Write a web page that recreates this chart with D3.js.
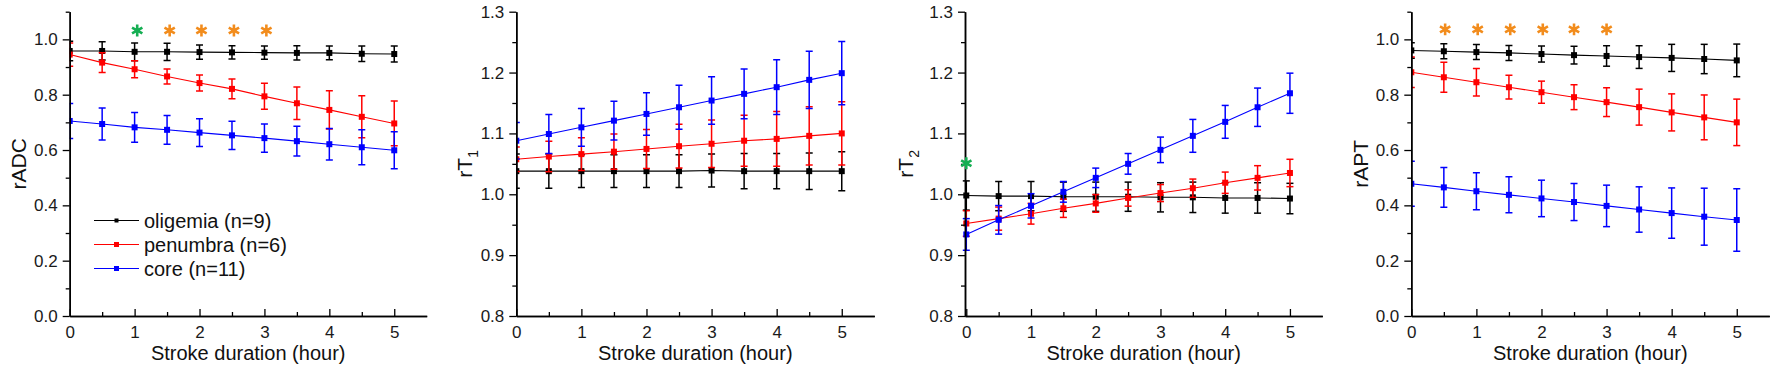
<!DOCTYPE html>
<html>
<head>
<meta charset="utf-8">
<script src="https://cdn.jsdelivr.net/npm/d3@7"></script>
<style>
  html, body { margin: 0; padding: 0; background: #fff; }
  svg { display: block; font-family: Arial, "Liberation Sans", sans-serif; }
</style>
</head>
<body>
<svg id="chart" width="1773" height="370"></svg>
<script>
// ---------- data ----------
const hours = [0, 0.5, 1, 1.5, 2, 2.5, 3, 3.5, 4, 4.5, 5];
const xTickValues = [0, 1, 2, 3, 4, 5];
const xMinorTicks = [0.5, 1.5, 2.5, 3.5, 4.5];
const seriesNames = ["oligemia (n=9)", "penumbra (n=6)", "core (n=11)"];
const seriesColors = ["#000000", "#ff0000", "#0000ff"];

// rADC
const adcOlig = [0.958, 0.958, 0.955, 0.955, 0.954, 0.953, 0.952, 0.951, 0.951, 0.948, 0.947];
const adcOligErr = [0.035, 0.033, 0.032, 0.031, 0.026, 0.024, 0.024, 0.026, 0.025, 0.028, 0.029];
const adcPen = [0.945, 0.916, 0.892, 0.866, 0.842, 0.821, 0.794, 0.769, 0.745, 0.720, 0.696];
const adcPenErr = [0.042, 0.036, 0.031, 0.027, 0.029, 0.036, 0.047, 0.059, 0.069, 0.076, 0.081];
const adcCore = [0.705, 0.694, 0.682, 0.673, 0.663, 0.653, 0.643, 0.632, 0.621, 0.610, 0.599];
const adcCoreErr = [0.063, 0.058, 0.054, 0.052, 0.050, 0.051, 0.051, 0.054, 0.057, 0.063, 0.067];

// rT1
const t1Olig = [1.038, 1.038, 1.038, 1.038, 1.038, 1.038, 1.039, 1.038, 1.038, 1.038, 1.038];
const t1OligErr = [0.028, 0.028, 0.027, 0.027, 0.027, 0.027, 0.027, 0.029, 0.029, 0.030, 0.032];
const t1Pen = [1.0575, 1.062, 1.066, 1.070, 1.0745, 1.079, 1.083, 1.088, 1.091, 1.096, 1.100];
const t1PenErr = [0.020, 0.025, 0.027, 0.029, 0.032, 0.036, 0.039, 0.042, 0.045, 0.048, 0.052];
const t1Core = [1.088, 1.099, 1.110, 1.121, 1.132, 1.143, 1.154, 1.165, 1.176, 1.188, 1.199];
const t1CoreErr = [0.030, 0.032, 0.031, 0.032, 0.035, 0.036, 0.039, 0.041, 0.045, 0.047, 0.052];

// rT2
const t2Olig = [0.998, 0.997, 0.997, 0.996, 0.996, 0.996, 0.995, 0.995, 0.994, 0.994, 0.993];
const t2OligErr = [0.024, 0.024, 0.024, 0.024, 0.024, 0.024, 0.024, 0.025, 0.025, 0.025, 0.025];
const t2Pen = [0.952, 0.960, 0.968, 0.977, 0.985, 0.994, 1.002, 1.010, 1.019, 1.027, 1.035];
const t2PenErr = [0.021, 0.019, 0.017, 0.015, 0.0145, 0.0135, 0.014, 0.015, 0.0175, 0.020, 0.0225];
const t2Core = [0.934, 0.958, 0.981, 1.004, 1.027, 1.050, 1.073, 1.096, 1.119, 1.143, 1.166];
const t2CoreErr = [0.026, 0.0235, 0.020, 0.017, 0.016, 0.017, 0.021, 0.027, 0.027, 0.0315, 0.033];

// rAPT
const aptOlig = [0.960, 0.957, 0.954, 0.951, 0.947, 0.943, 0.940, 0.936, 0.933, 0.929, 0.924];
const aptOligErr = [0.028, 0.027, 0.027, 0.027, 0.029, 0.032, 0.037, 0.041, 0.049, 0.053, 0.059];
const aptPen = [0.881, 0.863, 0.845, 0.827, 0.809, 0.791, 0.773, 0.755, 0.736, 0.718, 0.700];
const aptPenErr = [0.055, 0.054, 0.050, 0.043, 0.040, 0.045, 0.052, 0.065, 0.067, 0.081, 0.084];
const aptCore = [0.478, 0.465, 0.451, 0.438, 0.425, 0.412, 0.398, 0.385, 0.372, 0.359, 0.347];
const aptCoreErr = [0.081, 0.072, 0.067, 0.065, 0.066, 0.067, 0.075, 0.082, 0.091, 0.103, 0.113];

// significance markers (hour, level, kind)
const adcStarHours = [1.04, 1.54, 2.03, 2.53, 3.03];
const adcStarKinds = ["g", "o", "o", "o", "o"];
const adcStarLevel = 1.032;
const t2StarHours = [0];
const t2StarKinds = ["g"];
const t2StarLevel = 1.051;
const aptStarHours = [0.52, 1.02, 1.52, 2.02, 2.5, 3.0];
const aptStarKinds = ["o", "o", "o", "o", "o", "o"];
const aptStarLevel = 1.036;
const starColors = { g: "#14ae52", o: "#f28c1c" };

const adcYTicks = [0.0, 0.2, 0.4, 0.6, 0.8, 1.0];
const adcYMinor = [0.1, 0.3, 0.5, 0.7, 0.9, 1.1];
const tYTicks = [0.8, 0.9, 1.0, 1.1, 1.2, 1.3];
const tYMinor = [0.85, 0.95, 1.05, 1.15, 1.25];

// ---------- layout ----------
const svg = d3.select("#chart");
const plotTop = 11.7, plotBottom = 316;

const panels = [
  { left: 69.7, right: 426.7, xDomain: [0, 5.5], yDomain: [0, 1.1], yTicks: adcYTicks, yMinor: adcYMinor,
    label: ["rADC", null], labelX: 26, clip: true,
    series: [[adcOlig, adcOligErr], [adcPen, adcPenErr], [adcCore, adcCoreErr]],
    stars: { h: adcStarHours, k: adcStarKinds, v: adcStarLevel }, legend: true },
  { left: 516.3, right: 874.3, xDomain: [0, 5.5], yDomain: [0.8, 1.3], yTicks: tYTicks, yMinor: tYMinor,
    label: ["rT", "1"], labelX: 472, clip: true,
    series: [[t1Olig, t1OligErr], [t1Pen, t1PenErr], [t1Core, t1CoreErr]] },
  { left: 965, right: 1322.3, xDomain: [-0.02, 5.5], yDomain: [0.8, 1.3], yTicks: tYTicks, yMinor: tYMinor,
    label: ["rT", "2"], labelX: 913, clip: false,
    series: [[t2Olig, t2OligErr], [t2Pen, t2PenErr], [t2Core, t2CoreErr]],
    stars: { h: t2StarHours, k: t2StarKinds, v: t2StarLevel } },
  { left: 1411.3, right: 1769.3, xDomain: [0, 5.5], yDomain: [0, 1.1], yTicks: adcYTicks, yMinor: adcYMinor,
    label: ["rAPT", null], labelX: 1368, clip: true,
    series: [[aptOlig, aptOligErr], [aptPen, aptPenErr], [aptCore, aptCoreErr]],
    stars: { h: aptStarHours, k: aptStarKinds, v: aptStarLevel } }
];

const fmt = d3.format(".1f");
const starPath = d3.symbol().type(d3.symbolAsterisk).size(100)();

panels.forEach((p, pi) => {
  const x = d3.scaleLinear().domain(p.xDomain).range([p.left, p.right]);
  const y = d3.scaleLinear().domain(p.yDomain).range([plotBottom, plotTop]);
  const g = svg.append("g");

  const clipId = "clip" + pi;
  if (p.clip) {
    svg.append("clipPath").attr("id", clipId).append("rect")
      .attr("x", p.left).attr("y", 0).attr("width", p.right - p.left + 10).attr("height", plotBottom + 5);
  }
  const data = g.append("g");
  if (p.clip) data.attr("clip-path", `url(#${clipId})`);

  p.series.forEach(([vals, errs], si) => {
    const col = seriesColors[si];
    const pts = hours.map((h, i) => ({ h, v: vals[i], e: errs[i] }));
    const sg = data.append("g");
    // error bars
    const eb = sg.selectAll(".eb").data(pts).enter().append("g");
    eb.append("line")
      .attr("x1", d => x(d.h)).attr("x2", d => x(d.h))
      .attr("y1", d => y(d.v - d.e)).attr("y2", d => y(d.v + d.e))
      .attr("stroke", col).attr("stroke-width", 1.5);
    [-1, 1].forEach(s => {
      eb.append("line")
        .attr("x1", d => x(d.h) - 3.5).attr("x2", d => x(d.h) + 3.5)
        .attr("y1", d => y(d.v + s * d.e)).attr("y2", d => y(d.v + s * d.e))
        .attr("stroke", col).attr("stroke-width", 1.5);
    });
    // line
    sg.append("path")
      .attr("d", d3.line().x(d => x(d.h)).y(d => y(d.v))(pts))
      .attr("fill", "none").attr("stroke", col).attr("stroke-width", 1.1);
    // markers
    sg.selectAll(".mk").data(pts).enter().append("rect")
      .attr("x", d => x(d.h) - 3).attr("y", d => y(d.v) - 3)
      .attr("width", 6).attr("height", 6).attr("fill", col);
  });

  // axes
  const yAxis = d3.axisLeft(y).tickValues(p.yTicks).tickFormat(fmt).tickSize(7).tickSizeOuter(0).tickPadding(5);
  const yAxisMinor = d3.axisLeft(y).tickValues(p.yMinor).tickFormat("").tickSize(4).tickSizeOuter(0);
  const xAxis = d3.axisBottom(x).tickValues(xTickValues).tickFormat(d3.format("d")).tickSize(-7).tickSizeOuter(0).tickPadding(10);
  const xAxisMinor = d3.axisBottom(x).tickValues(xMinorTicks).tickFormat("").tickSize(-4).tickSizeOuter(0);

  [[yAxisMinor, "y"], [xAxisMinor, "x"], [yAxis, "y"], [xAxis, "x"]].forEach(([ax, t]) => {
    const a = g.append("g")
      .attr("transform", t === "y" ? `translate(${p.left},0)` : `translate(0,${plotBottom})`)
      .call(ax);
    a.selectAll("path").attr("stroke", "#000").attr("stroke-width", 1.5);
    a.selectAll("line").attr("stroke", "#000").attr("stroke-width", 1.3);
    a.selectAll("text").attr("font-size", 17).attr("fill", "#1a1a1a")
      .attr("font-family", "Arial, 'Liberation Sans', sans-serif");
  });

  // axis titles
  g.append("text")
    .attr("x", (p.left + p.right) / 2).attr("y", 360)
    .attr("text-anchor", "middle").attr("font-size", 20).attr("fill", "#111")
    .text("Stroke duration (hour)");

  const yl = g.append("text")
    .attr("transform", `translate(${p.labelX},${(plotTop + plotBottom) / 2}) rotate(-90)`)
    .attr("text-anchor", "middle").attr("font-size", 21).attr("fill", "#111");
  yl.append("tspan").text(p.label[0]);
  if (p.label[1]) yl.append("tspan").attr("font-size", 14).attr("dy", 6).text(p.label[1]);

  // significance asterisks
  if (p.stars) {
    g.selectAll(".star").data(p.stars.h.map((h, i) => ({ h, k: p.stars.k[i] }))).enter()
      .append("path")
      .attr("d", starPath)
      .attr("transform", d => `translate(${x(d.h)},${y(p.stars.v)})`)
      .attr("fill", "none").attr("stroke", d => starColors[d.k]).attr("stroke-width", 2.6);
  }

  // legend
  if (p.legend) {
    const lg = g.append("g");
    const rows = [220.5, 244.5, 268.5];
    seriesNames.forEach((name, i) => {
      const r = lg.append("g").attr("transform", `translate(0,${rows[i]})`);
      r.append("line").attr("x1", 94).attr("x2", 139).attr("y1", 0).attr("y2", 0)
        .attr("stroke", seriesColors[i]).attr("stroke-width", 1.1);
      const s = i === 0 ? 4 : 5;
      r.append("rect").attr("x", 116.5 - s / 2).attr("y", -s / 2).attr("width", s).attr("height", s)
        .attr("fill", seriesColors[i]);
      r.append("text").attr("x", 144).attr("y", 0).attr("dy", "0.35em")
        .attr("font-size", 20).attr("fill", "#111").text(name);
    });
  }
});
</script>
</body>
</html>
